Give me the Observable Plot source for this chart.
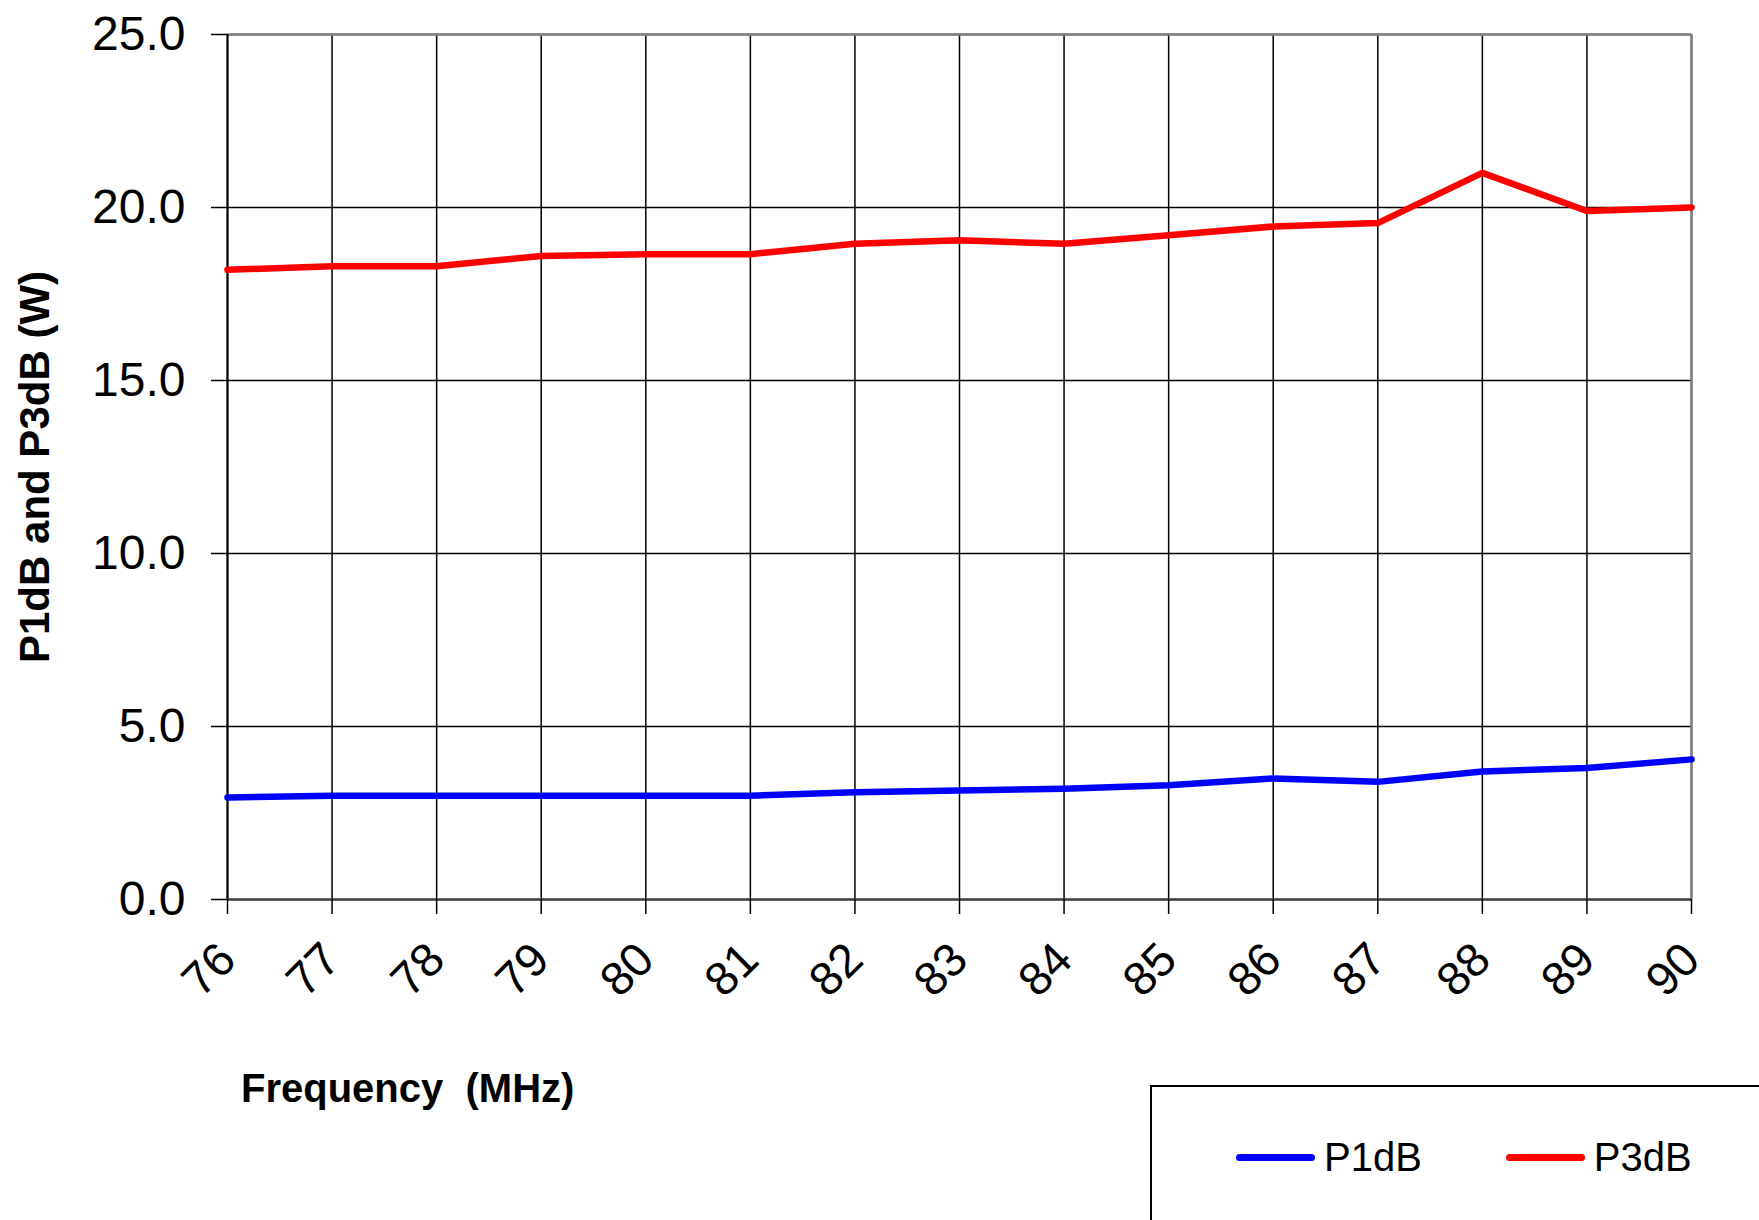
<!DOCTYPE html>
<html>
<head>
<meta charset="utf-8">
<script src="https://cdn.jsdelivr.net/npm/d3@7"></script>
<script src="https://cdn.jsdelivr.net/npm/@observablehq/plot@0.6"></script>
<style>
  html, body { margin: 0; padding: 0; background: #fff; }
  #wrap { position: relative; width: 1759px; height: 1220px; overflow: hidden; background: #fff;
          font-family: "Liberation Sans", Arial, sans-serif; color: #000; }
  #chart { position: absolute; left: 0; top: 0; }
  #xlabel { position: absolute; left: 241px; top: 1068px; font-size: 40px; font-weight: bold;
            line-height: 1; white-space: pre; }
  #legend { position: absolute; left: 1150px; top: 1085px; width: 700px; height: 200px;
            border: 2px solid #000; box-sizing: border-box; background: #fff; }
  #legend .row { position: absolute; left: 84px; top: 50px; height: 40px; display: flex; align-items: center; }
  #legend .sw { width: 79px; height: 7px; border-radius: 3.5px; }
  #legend .lab { font-size: 40px; line-height: 40px; margin-left: 9px; margin-right: 84px; }
</style>
</head>
<body>
<div id="wrap">
  <div id="chart"></div>
  <div id="xlabel"></div>
  <div id="legend"><div class="row"></div></div>
</div>
<script>
// ---- data ----
const freqs = [76, 77, 78, 79, 80, 81, 82, 83, 84, 85, 86, 87, 88, 89, 90];
const p1dB  = [2.95, 3.0, 3.0, 3.0, 3.0, 3.0, 3.1, 3.15, 3.2, 3.3, 3.5, 3.4, 3.7, 3.8, 4.05];
const p3dB  = [18.2, 18.3, 18.3, 18.6, 18.65, 18.65, 18.95, 19.05, 18.95, 19.2, 19.45, 19.55, 21.0, 19.9, 20.0];
const seriesNames = ["P1dB", "P3dB"];
const seriesColors = ["#0000ff", "#ff0000"];
const yTicks = [0, 5, 10, 15, 20, 25];
const xTitle = "Frequency  (MHz)";
const yTitle = "P1dB and P3dB (W)";

const seriesValues = [p1dB, p3dB];
const rows = seriesNames.flatMap((s, j) => freqs.map((f, i) => ({freq: f, value: seriesValues[j][i], series: s})));

const chart = Plot.plot({
  width: 1759,
  height: 1010,
  marginTop: 34,
  marginRight: 68,
  marginBottom: 111,
  marginLeft: 227,
  style: {fontFamily: "Liberation Sans, Arial, sans-serif", background: "#fff", color: "#000"},
  x: {domain: [76, 90]},
  y: {domain: [0, 25]},
  color: {domain: seriesNames, range: seriesColors},
  marks: [
    Plot.gridX(freqs, {stroke: "#000", strokeOpacity: 1, strokeWidth: 1.5}),
    Plot.gridY(yTicks, {stroke: "#000", strokeOpacity: 1, strokeWidth: 1.5}),
    Plot.ruleY([25], {stroke: "#808080", strokeWidth: 2.5}),
    Plot.ruleX([90], {stroke: "#808080", strokeWidth: 2.5}),
    Plot.ruleX([76], {stroke: "#000", strokeWidth: 2}),
    Plot.ruleY([0], {stroke: "#444", strokeWidth: 2.5}),
    Plot.axisY(yTicks, {tickSize: 16, tickPadding: 26, tickFormat: d => d.toFixed(1), fontSize: 48, label: null, strokeWidth: 1.5}),
    Plot.axisY({ticks: [], tickSize: 0, label: yTitle, labelAnchor: "center", labelArrow: "none", labelOffset: 208, fontSize: 42, fontWeight: "bold"}),
    Plot.axisX(freqs, {tickSize: 15, tickRotate: -45, tickPadding: 37, fontSize: 47, label: null, tickFormat: d => String(d), strokeWidth: 1.5}),
    Plot.line(rows, {x: "freq", y: "value", z: "series", stroke: "series", strokeWidth: 6.5})
  ]
});
document.getElementById("chart").append(chart);
document.getElementById("xlabel").textContent = xTitle;

const row = document.querySelector("#legend .row");
seriesNames.forEach((s, i) => {
  const sw = document.createElement("div");
  sw.className = "sw";
  sw.style.background = seriesColors[i];
  const lab = document.createElement("div");
  lab.className = "lab";
  lab.textContent = s;
  row.append(sw, lab);
});
</script>
</body>
</html>
